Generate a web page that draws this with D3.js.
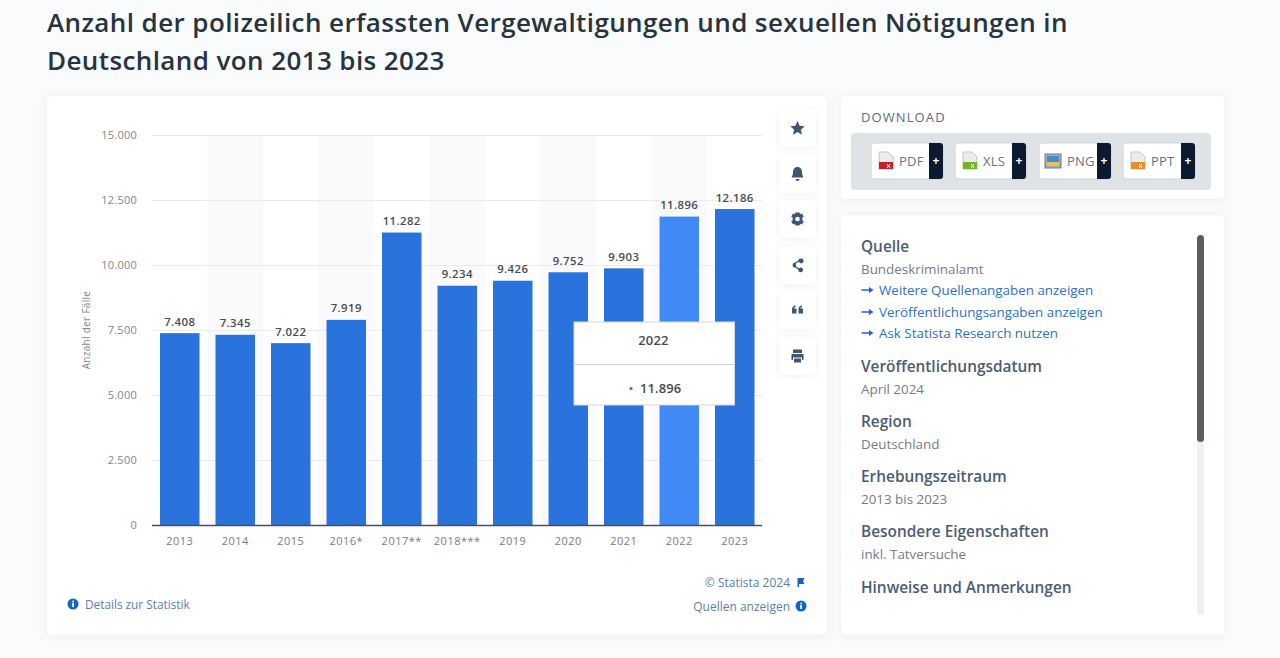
<!DOCTYPE html>
<html lang="de"><head><meta charset="utf-8">
<script src="https://cdnjs.cloudflare.com/ajax/libs/d3/7.8.5/d3.min.js"></script>
<style>
html,body{margin:0;padding:0;background:#fafbfc;overflow:hidden}
svg{display:block;font-family:"Open Sans",sans-serif}
</style></head><body><svg id="c" width="1280" height="658"></svg>
<script>
const titleLines=["Anzahl der polizeilich erfassten Vergewaltigungen und sexuellen Nötigungen in","Deutschland von 2013 bis 2023"];
const years=["2013","2014","2015","2016*","2017**","2018***","2019","2020","2021","2022","2023"];
const cases=[7408,7345,7022,7919,11282,9234,9426,9752,9903,11896,12186];
const yTicks=[0,2500,5000,7500,10000,12500,15000];
const highlightYear="2022";
const yAxisLabel="Anzahl der Fälle";
const downloads=["PDF","XLS","PNG","PPT"];
const downloadColors=["#c8202c","#6fb52c","#3f8fd0","#ef8b22"];
const infoBlocks=[["Quelle",246],["Veröffentlichungsdatum",366],["Region",421],["Erhebungszeitraum",476],["Besondere Eigenschaften",531],["Hinweise und Anmerkungen",587]];
const infoTexts=[["Bundeskriminalamt",269],["April 2024",389],["Deutschland",444],["2013 bis 2023",499],["inkl. Tatversuche",554]];
const infoLinks=[["Weitere Quellenangaben anzeigen",290],["Veröffentlichungsangaben anzeigen",312],["Ask Statista Research nutzen",333]];

const svg=d3.select("#c");
const defs=svg.append("defs");
const f=defs.append("filter").attr("id","sh").attr("x","-10%").attr("y","-10%").attr("width","120%").attr("height","120%");
f.append("feDropShadow").attr("dx",0).attr("dy",1).attr("stdDeviation",5).attr("flood-color","#8a9ab0").attr("flood-opacity",0.16);
const card=(x,y,w,h,r=5)=>svg.append("rect").attr("x",x).attr("y",y).attr("width",w).attr("height",h).attr("rx",r).attr("fill","#fff").attr("filter","url(#sh)");
const txt=(x,y,s,o={})=>svg.append("text").attr("x",x).attr("y",y).text(s)
  .attr("font-size",o.size||13).attr("font-weight",o.weight||400).attr("fill",o.fill||"#5f6a76")
  .attr("text-anchor",o.anchor||"start").attr("letter-spacing",o.ls||null);

// Title
svg.append("g").selectAll("text").data(titleLines).join("text")
  .attr("x",47).attr("y",(d,i)=>32+i*38).text(d=>d)
  .attr("font-size",26).attr("font-weight",600).attr("fill","#26343f").attr("letter-spacing","0.4");

// Cards
card(47,96,780,539);
card(841,96,383,103);
card(841,215,383,420);

// Chart
const x=d3.scaleBand().domain(years).range([152,762.5]).paddingInner(0).paddingOuter(0);
const y=d3.scaleLinear().domain([0,15000]).range([525.5,136]);
const barW=39.5;
const chart=svg.append("g");
chart.append("g").selectAll("rect").data(years.filter((d,i)=>i%2==1)).join("rect")
  .attr("x",d=>x(d)).attr("y",y(15000)).attr("width",x.bandwidth()).attr("height",y(0)-y(15000))
  .attr("fill","#fafafb");
const yAxis=d3.axisLeft(y).tickValues(yTicks).tickSize(0).tickPadding(15)
  .tickFormat(d=>d3.format(",")(d).replace(/,/g,"."));
const yg=chart.append("g").attr("transform","translate(152,-0.7)").call(yAxis);
yg.select(".domain").remove();
yg.selectAll("text").attr("font-family","'Open Sans',sans-serif").attr("font-size",11).attr("fill","#858585").attr("letter-spacing","0.25");
chart.append("g").selectAll("line").data(yTicks.filter(d=>d>0)).join("line")
  .attr("x1",152).attr("x2",762).attr("y1",d=>Math.round(y(d))-0.5).attr("y2",d=>Math.round(y(d))-0.5)
  .attr("stroke","#e9ebed").attr("stroke-width",1);
chart.append("g").selectAll("rect").data(years).join("rect")
  .attr("x",d=>x(d)+(x.bandwidth()-barW)/2).attr("width",barW)
  .attr("y",(d,i)=>y(cases[i])).attr("height",(d,i)=>y(0)-y(cases[i]))
  .attr("fill",d=>d===highlightYear?"#4189f5":"#2a72dc");
const xAxis=d3.axisBottom(x).tickSize(0).tickPadding(12.3);
const xg=chart.append("g").attr("transform","translate(0,525)").call(xAxis);
xg.select(".domain").attr("stroke","#4a4f55").attr("stroke-width",1.3).attr("d","M152,0.5H762");
xg.selectAll("text").attr("font-family","'Open Sans',sans-serif").attr("font-size",11).attr("fill","#7b7b7b").attr("letter-spacing","0.5");
chart.append("g").selectAll("text").data(years).join("text")
  .attr("x",d=>x(d)+x.bandwidth()/2).attr("y",(d,i)=>y(cases[i])-7.5)
  .attr("text-anchor","middle").attr("font-size",11.4).attr("font-weight",600).attr("fill","#484b50").attr("letter-spacing","0.4")
  .text((d,i)=>d3.format(",")(cases[i]).replace(/,/g,"."));
svg.append("text").attr("transform","translate(90,330) rotate(-90)").attr("text-anchor","middle")
  .attr("font-size",10).attr("fill","#858585").attr("letter-spacing","0.3").text(yAxisLabel);

// Tooltip
const hi=years.indexOf(highlightYear);
svg.append("rect").attr("x",574).attr("y",322).attr("width",160.5).attr("height",83).attr("fill","#fff").attr("stroke","#d5d8dc");
svg.append("line").attr("x1",574).attr("x2",734.5).attr("y1",364.5).attr("y2",364.5).attr("stroke","#cfd3d8");
txt(653.5,345,years[hi],{size:13,weight:600,anchor:"middle",fill:"#484b50",ls:"0.2"});
svg.append("circle").attr("cx",631).attr("cy",388.5).attr("r",1.6).attr("fill","#2a72dc");
txt(640,393,d3.format(",")(cases[hi]).replace(/,/g,"."),{size:13,weight:600,fill:"#484b50",ls:"0.1"});

// Side icon buttons
const icons=[
 "M0-7 2.1-2.2 7.2-1.7 3.4 1.7 4.5 6.7 0 4.1-4.5 6.7-3.4 1.7-7.2-1.7-2.1-2.2Z",
 "M0-7C-3-7-4.5-4.5-4.5-2C-4.5 1-5.5 2.5-6 3.5H6C5.5 2.5 4.5 1 4.5-2C4.5-4.5 3-7 0-7ZM-2 5A2 2 0 0 0 2 5Z",
 "M-2-6.5H2L2.6-4.7 4.4-5.6 6.3-2.4 4.8-1.2V1.2L6.3 2.4 4.4 5.6 2.6 4.7 2 6.5H-2L-2.6 4.7-4.4 5.6-6.3 2.4-4.8 1.2V-1.2L-6.3-2.4-4.4-5.6-2.6-4.7ZM0-2.3A2.3 2.3 0 1 0 0 2.3 2.3 2.3 0 1 0 0-2.3Z",
 "M3.7-6.5A2.4 2.4 0 1 1 1.5-3.2L-1.6-1.4Q-1.5 0-1.6 1.4L1.5 3.2A2.4 2.4 0 1 1 .8 4.4L-2.3 2.6A2.4 2.4 0 1 1-2.3-2.6L.8-4.4A2.4 2.4 0 0 1 3.7-6.5Z",
 "M-5.5-.5C-5.5-3-4-4.3-2-4.5V-3C-3-2.8-3.5-2.2-3.5-1.5H-1V3.5H-5.5ZM1-.5C1-3 2.5-4.3 4.5-4.5V-3C3.5-2.8 3-2.2 3-1.5H5.5V3.5H1Z",
 "M-4.5-6.5H4.5V-3H-4.5ZM-6-2H6V4H4.5V1.5H-4.5V4H-6ZM-3.5 2.5H3.5V6.5H-3.5Z"
];
const btnY=[128,174,219,265,310,356];
btnY.forEach((cy,i)=>{
  card(779,cy-19,37,38,5);
  svg.append("path").attr("transform",`translate(797.5,${cy})`).attr("d",icons[i]).attr("fill","#3f5673").attr("fill-rule","evenodd");
});

// Download
txt(861,122,"DOWNLOAD",{size:13,weight:500,fill:"#5a6b7e",ls:"1.1"});
svg.append("rect").attr("x",851).attr("y",133).attr("width",360).attr("height",57).attr("rx",4).attr("fill","#e0e3e6");
const dlX=[871,955,1039,1123], dlW=[72,71,72,72];
downloads.forEach((d,i)=>{
  const bx=dlX[i],w=dlW[i];
  svg.append("rect").attr("x",bx).attr("y",143).attr("width",w).attr("height",36).attr("rx",3).attr("fill","#fff").attr("stroke","#cdd3d9");
  svg.append("path").attr("d",`M${bx+w-14} 143H${bx+w-3}Q${bx+w} 143 ${bx+w} 146V176Q${bx+w} 179 ${bx+w-3} 179H${bx+w-14}Z`).attr("fill","#0b1a2e");
  txt(bx+w-7,165,"+",{size:12,weight:700,fill:"#fff",anchor:"middle"});
  const ix=bx+8;
  if(d==="PNG"){
    svg.append("rect").attr("x",ix-2).attr("y",154).attr("width",16).attr("height",14).attr("fill","#a7adb3").attr("stroke","#6f7a85");
    svg.append("rect").attr("x",ix).attr("y",156).attr("width",12).attr("height",6).attr("fill",downloadColors[i]);
    svg.append("rect").attr("x",ix).attr("y",162).attr("width",12).attr("height",4).attr("fill","#e8c44f");
  } else {
    svg.append("path").attr("d",`M${ix} 152H${ix+9}L${ix+14} 157V169H${ix}Z`).attr("fill","#ececec").attr("stroke","#c4c4c4");
    svg.append("rect").attr("x",ix).attr("y",162).attr("width",14).attr("height",7).attr("fill",downloadColors[i]);
    svg.append("path").attr("d",`M${ix+8} 164L${ix+11} 168M${ix+11} 164L${ix+8} 168`).attr("stroke","#fff").attr("stroke-width",1);
  }
  txt(bx+28,165.5,d,{size:13,fill:"#6a737d",ls:"0.2"});
});

// Info panel
infoBlocks.forEach(([s,yy])=>txt(861,yy+5.5,s,{size:15.4,weight:600,fill:"#4b5d72"}));
infoTexts.forEach(([s,yy])=>txt(861,yy+4.5,s,{size:13.4,fill:"#757c84"}));
infoLinks.forEach(([s,yy])=>{
  txt(879,yy+4.5,s,{size:13.4,fill:"#2f6fc4"});
  svg.append("path").attr("d",`M861.5 ${yy-.8}H869V${yy-3}L873.5 ${yy}L869 ${yy+3}V${yy+.8}H861.5Z`).attr("fill","#1c63cf");
});
svg.append("rect").attr("x",1197).attr("y",235).attr("width",7).attr("height",380).attr("rx",3.5).attr("fill","#eef0f2");
svg.append("rect").attr("x",1197).attr("y",235).attr("width",7).attr("height",207).attr("rx",3.5).attr("fill","#5b5f63");

// Footer
const info=(cx,cy)=>{
  svg.append("circle").attr("cx",cx).attr("cy",cy).attr("r",5.5).attr("fill","#1463c8");
  svg.append("rect").attr("x",cx-.8).attr("y",cy-1).attr("width",1.8).attr("height",4).attr("fill","#fff");
  svg.append("rect").attr("x",cx-.8).attr("y",cy-3.3).attr("width",1.8).attr("height",1.6).attr("fill","#fff");
};
info(73,604);
txt(85,609,"Details zur Statistik",{size:11.8,fill:"#5a80ad"});
txt(790,587,"© Statista 2024",{size:12,fill:"#5a80ad",anchor:"end"});
svg.append("path").attr("d","M797.5 578H804.5L803 581 804.5 584H799V587H797.5Z").attr("fill","#1463c8");
txt(790,611,"Quellen anzeigen",{size:12,fill:"#5a80ad",anchor:"end"});
info(801,606);
</script></body></html>
